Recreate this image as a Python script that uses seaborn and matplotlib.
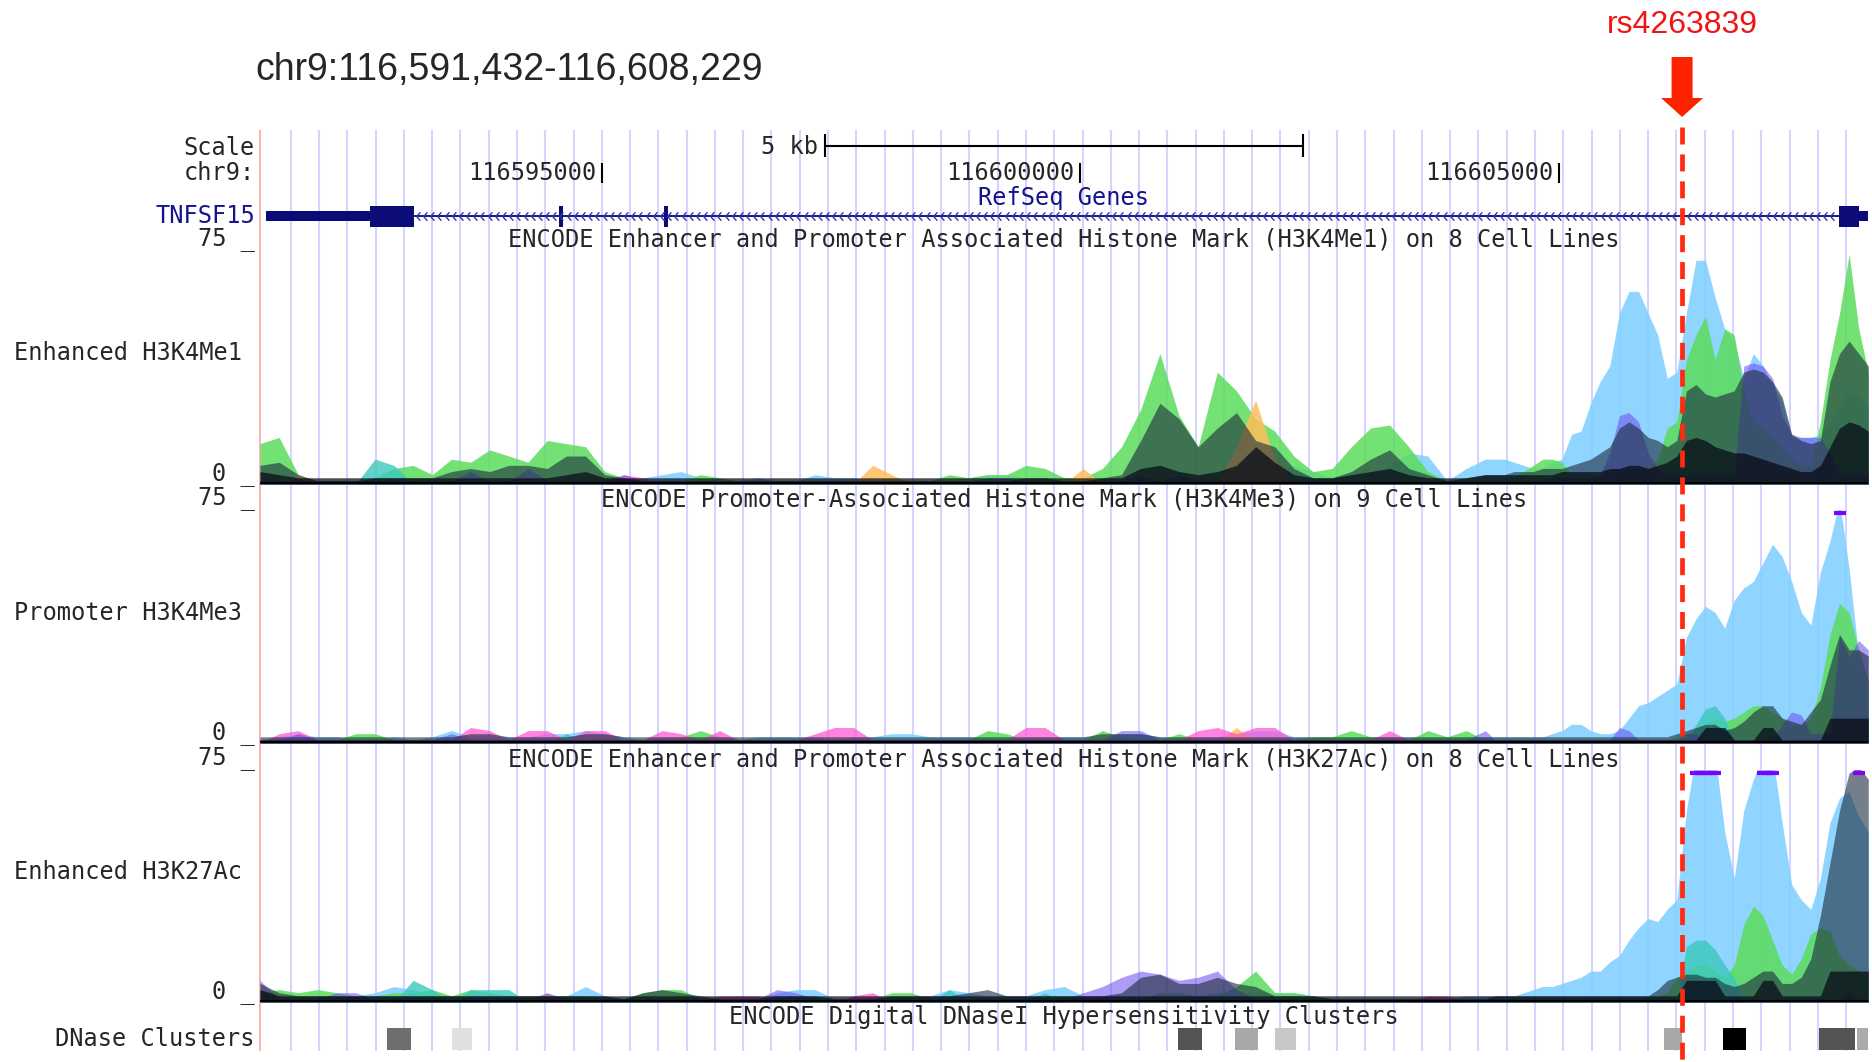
import numpy as np
import matplotlib
matplotlib.use("Agg")
import matplotlib.pyplot as plt
from matplotlib.patches import FancyArrow
from matplotlib.path import Path
import seaborn as sns

W, H = 1872, 1062

# ---- genome window / annotations ----
CHROM = "chr9"
VIEW_START = 116591432
VIEW_END = 116608229
SNP_NAME = "rs4263839"
SNP_POS = 116606287
SCALE_BAR_BP = 5000
TICK_POS = [116595000, 116600000, 116605000]

GENE_NAME = "TNFSF15"
EXON_STARTS = [116591495, 116592581, 116594557, 116595652, 116607927, 116608137]
EXON_ENDS = [116592581, 116593041, 116594597, 116595692, 116608137, 116608229]
EXON_KIND = ["utr", "cds", "cds", "cds", "cds", "utr"]

DNASE_STARTS = [116592759, 116593438, 116601022, 116601618, 116602036,
                116606100, 116606715, 116607719, 116608116]
DNASE_ENDS = [116593009, 116593647, 116601273, 116601858, 116602255,
              116606287, 116606956, 116608095, 116608229]
DNASE_SCORE = [570, 120, 670, 340, 220, 340, 1000, 670, 330]

# signal bins (bp offset from window start): 200 bp bins, then 100 bp bins
BIN_OFFSETS = np.r_[np.arange(0, 12801, 200), np.arange(12900, 16801, 100)]

# ---- H3K4Me1 layers (signal 0-75) ----
ME1_BLUE = [
    1, 1, 1, 1, 1, 1, 2, 2, 1, 1, 1, 1, 1, 1, 1, 1, 1, 1, 1, 1,
    2, 3, 4, 2, 1, 1, 2, 1, 1, 3, 2, 2, 1, 2, 1, 1, 1, 2, 3, 3,
    2, 2, 1, 1, 1, 1, 1, 1, 1, 2, 2, 2, 2, 3, 6, 4, 2, 3, 4, 6,
    10, 9, 1, 5, 8,
    8, 8, 7, 6, 5, 5, 7, 8, 16, 17, 26, 33, 38, 55, 62, 62, 55, 48, 34, 36,
    55, 72, 72, 60, 50, 46, 34, 42, 38, 32, 27, 15, 15, 15, 16, 20, 25, 30, 28, 25]
ME1_GREEN = [
    13, 15, 3, 1, 1, 1, 2, 5, 6, 3, 8, 7, 11, 9, 7, 14, 13, 12, 4, 2,
    1, 1, 1, 3, 2, 1, 1, 1, 1, 1, 1, 1, 1, 1, 1, 1, 3, 2, 3, 3,
    6, 5, 2, 2, 5, 12, 24, 42, 22, 12, 36, 30, 21, 17, 9, 4, 5, 12, 18, 19,
    12, 4, 1, 2, 2,
    2, 2, 3, 4, 6, 8, 8, 7, 3, 3, 3, 3, 4, 5, 5, 5, 5, 8, 18, 20,
    40, 48, 54, 40, 50, 48, 30, 20, 18, 15, 12, 8, 6, 6, 20, 40, 55, 74, 50, 36]
ME1_TEAL = [
    0, 0, 0, 0, 0, 0, 8, 6, 0, 0, 0, 0, 0, 0, 0, 0, 0, 0, 0, 0,
    0, 0, 0, 0, 0, 0, 0, 0, 0, 0, 0, 0, 0, 0, 0, 0, 0, 0, 0, 0,
    0, 0, 0, 0, 0, 0, 0, 0, 0, 0, 0, 0, 0, 0, 0, 0, 0, 0, 0, 0,
    0, 0, 0, 0, 0,
    0, 0, 0, 0, 0, 0, 0, 0, 0, 0, 0, 0, 0, 0, 0, 0, 0, 0, 0, 0,
    0, 0, 0, 0, 0, 0, 0, 0, 0, 0, 0, 0, 0, 0, 0, 0, 0, 0, 0, 0]
ME1_ORANGE = [
    0, 0, 3, 0, 0, 0, 0, 0, 0, 0, 0, 0, 0, 0, 0, 0, 0, 0, 0, 0,
    0, 0, 0, 0, 0, 0, 0, 0, 0, 0, 0, 0, 6, 3, 0, 0, 0, 0, 0, 0,
    0, 0, 0, 5, 0, 0, 0, 0, 0, 0, 0, 12, 27, 8, 0, 0, 0, 0, 0, 0,
    0, 0, 0, 0, 0,
    0, 0, 0, 0, 0, 0, 0, 0, 0, 0, 0, 0, 0, 0, 0, 0, 0, 0, 0, 0,
    0, 0, 0, 0, 0, 0, 0, 0, 0, 0, 0, 0, 0, 0, 0, 0, 0, 0, 0, 0]
ME1_PINK = [
    0, 0, 2, 0, 0, 0, 0, 0, 0, 0, 0, 0, 0, 0, 0, 0, 0, 0, 0, 3,
    2, 0, 0, 0, 0, 0, 0, 0, 0, 0, 0, 0, 0, 0, 0, 0, 0, 0, 0, 0,
    0, 0, 0, 0, 0, 0, 0, 0, 0, 0, 0, 0, 0, 0, 0, 0, 0, 0, 0, 0,
    0, 0, 0, 0, 0,
    0, 0, 0, 0, 0, 0, 0, 0, 0, 0, 0, 0, 0, 0, 0, 0, 0, 0, 0, 0,
    0, 0, 0, 0, 0, 0, 0, 0, 0, 0, 0, 0, 0, 0, 0, 0, 0, 0, 0, 0]
ME1_PURPLE = [
    1, 1, 1, 1, 1, 1, 1, 1, 1, 1, 1, 4, 1, 1, 5, 1, 1, 1, 1, 3,
    1, 1, 1, 1, 1, 1, 1, 1, 1, 1, 1, 1, 1, 1, 1, 1, 1, 1, 2, 2,
    1, 1, 1, 1, 1, 1, 3, 1, 3, 1, 1, 1, 1, 1, 1, 1, 1, 1, 1, 1,
    1, 1, 1, 1, 1,
    1, 1, 1, 1, 1, 1, 2, 2, 2, 2, 2, 3, 10, 22, 23, 20, 10, 5, 3, 3,
    3, 3, 3, 3, 3, 3, 38, 39, 38, 34, 22, 16, 15, 15, 15, 10, 3, 3, 3, 3]
ME1_SLATE = [
    6, 7, 3, 1, 1, 1, 2, 2, 2, 2, 4, 5, 4, 6, 6, 5, 9, 9, 3, 2,
    1, 1, 1, 1, 1, 1, 1, 1, 1, 1, 1, 1, 1, 1, 1, 1, 1, 1, 1, 1,
    2, 2, 1, 1, 2, 3, 14, 26, 21, 12, 18, 23, 14, 12, 5, 2, 2, 4, 8, 11,
    5, 3, 1, 2, 3,
    3, 3, 4, 4, 4, 5, 5, 5, 6, 7, 8, 10, 12, 18, 20, 18, 15, 14, 12, 14,
    30, 32, 29, 28, 29, 30, 36, 37, 36, 33, 28, 16, 14, 13, 14, 33, 42, 46, 42, 38]
ME1_BLACK = [
    4, 3, 2, 2, 2, 2, 2, 2, 2, 2, 2, 2, 2, 2, 2, 2, 3, 4, 2, 2,
    2, 2, 2, 2, 2, 2, 2, 2, 2, 2, 2, 2, 2, 2, 2, 2, 2, 2, 2, 2,
    2, 2, 2, 2, 2, 2, 5, 6, 4, 3, 4, 6, 12, 7, 3, 2, 2, 3, 4, 5,
    3, 2, 2, 2, 3,
    3, 3, 3, 3, 3, 3, 3, 4, 4, 4, 4, 4, 5, 5, 6, 6, 5, 6, 7, 9,
    14, 15, 14, 12, 11, 10, 10, 9, 8, 7, 6, 5, 4, 4, 6, 12, 18, 20, 19, 17]

# ---- H3K4Me3 layers ----
ME3_BLUE = [
    1, 2, 3, 2, 2, 1, 1, 2, 1, 2, 4, 2, 2, 2, 2, 3, 3, 4, 3, 2,
    1, 2, 2, 2, 2, 1, 2, 2, 2, 2, 1, 2, 2, 3, 3, 2, 2, 2, 2, 1,
    2, 2, 2, 2, 2, 3, 3, 2, 2, 2, 2, 3, 4, 4, 2, 2, 2, 2, 2, 2,
    2, 2, 2, 2, 2,
    2, 2, 2, 2, 2, 2, 3, 4, 6, 6, 4, 3, 3, 4, 8, 12, 13, 15, 17, 19,
    34, 40, 44, 42, 37, 46, 50, 52, 58, 64, 60, 52, 42, 38, 55, 65, 78, 56, 28, 20]
ME3_GREEN = [
    1, 1, 1, 1, 1, 3, 3, 1, 1, 1, 1, 1, 1, 1, 1, 1, 1, 1, 2, 1,
    1, 1, 2, 4, 2, 1, 1, 1, 1, 1, 1, 1, 1, 1, 1, 1, 1, 1, 4, 3,
    1, 1, 1, 1, 4, 2, 1, 1, 3, 1, 1, 1, 1, 1, 1, 2, 2, 4, 2, 2,
    1, 4, 2, 4, 1,
    1, 1, 1, 1, 1, 1, 1, 1, 1, 1, 1, 1, 1, 1, 1, 1, 1, 1, 1, 2,
    3, 4, 6, 8, 7, 8, 10, 12, 12, 10, 8, 6, 6, 8, 18, 35, 45, 42, 30, 20]
ME3_TEAL = [
    0, 0, 0, 0, 0, 0, 0, 0, 0, 0, 0, 0, 0, 0, 0, 0, 3, 0, 0, 0,
    0, 0, 0, 0, 0, 0, 0, 0, 0, 0, 0, 0, 0, 0, 0, 0, 0, 0, 0, 0,
    0, 0, 0, 0, 0, 0, 0, 0, 0, 0, 0, 0, 0, 0, 0, 0, 0, 0, 0, 0,
    0, 0, 0, 0, 0,
    0, 0, 0, 0, 0, 0, 0, 0, 0, 0, 0, 0, 0, 0, 0, 0, 0, 0, 0, 0,
    0, 6, 11, 12, 8, 0, 0, 0, 0, 0, 0, 0, 0, 0, 0, 0, 0, 0, 0, 0]
ME3_ORANGE = [
    0, 0, 0, 0, 0, 0, 0, 0, 0, 0, 0, 0, 0, 0, 0, 0, 0, 0, 0, 0,
    0, 0, 0, 0, 0, 0, 0, 0, 0, 0, 0, 0, 0, 0, 0, 0, 0, 0, 0, 0,
    0, 0, 0, 0, 0, 0, 0, 0, 0, 0, 0, 5, 0, 0, 0, 0, 0, 0, 0, 0,
    0, 0, 0, 0, 0,
    0, 0, 0, 0, 0, 0, 0, 0, 0, 0, 0, 0, 0, 0, 0, 0, 0, 0, 0, 0,
    0, 0, 0, 0, 0, 0, 0, 0, 0, 0, 0, 0, 0, 0, 0, 0, 0, 0, 0, 0]
ME3_PINK = [
    0, 3, 4, 1, 1, 1, 1, 1, 1, 1, 1, 5, 4, 1, 4, 4, 1, 4, 4, 1,
    1, 4, 3, 1, 4, 1, 1, 1, 1, 3, 5, 5, 1, 1, 1, 1, 1, 1, 1, 1,
    5, 5, 1, 1, 1, 1, 1, 1, 1, 4, 5, 3, 5, 5, 1, 1, 1, 1, 1, 4,
    1, 1, 1, 1, 1,
    1, 1, 1, 1, 1, 1, 1, 1, 1, 1, 1, 1, 1, 1, 1, 1, 1, 1, 1, 1,
    1, 1, 1, 1, 1, 1, 1, 1, 1, 1, 1, 1, 1, 1, 1, 1, 1, 1, 1, 1]
ME3_PURPLE = [
    1, 1, 3, 1, 1, 1, 1, 1, 1, 1, 3, 1, 1, 1, 1, 1, 1, 1, 1, 1,
    1, 1, 1, 1, 1, 1, 1, 1, 1, 1, 1, 1, 1, 1, 1, 1, 1, 1, 1, 1,
    1, 1, 1, 1, 1, 4, 4, 1, 1, 1, 1, 1, 1, 1, 1, 1, 1, 1, 1, 1,
    1, 1, 1, 1, 4,
    1, 1, 1, 1, 1, 1, 1, 1, 1, 1, 1, 1, 1, 5, 4, 1, 1, 1, 1, 1,
    3, 3, 1, 1, 1, 1, 1, 1, 1, 1, 6, 10, 9, 3, 3, 3, 34, 28, 33, 30]
ME3_SLATE = [
    2, 2, 2, 2, 2, 2, 2, 2, 2, 2, 2, 3, 3, 2, 2, 2, 2, 3, 3, 2,
    2, 2, 2, 2, 2, 2, 2, 2, 2, 2, 2, 2, 2, 2, 2, 2, 2, 2, 2, 2,
    2, 2, 2, 2, 3, 3, 3, 2, 2, 2, 2, 2, 2, 2, 2, 2, 2, 2, 2, 2,
    2, 2, 2, 2, 2,
    2, 2, 2, 2, 2, 2, 2, 2, 2, 2, 2, 2, 2, 2, 2, 2, 2, 2, 2, 3,
    4, 5, 6, 6, 4, 5, 7, 10, 12, 12, 8, 7, 6, 10, 14, 25, 35, 30, 30, 28]
ME3_BLACK = [
    1, 1, 1, 1, 1, 1, 1, 1, 1, 1, 1, 1, 1, 1, 1, 1, 1, 1, 1, 1,
    1, 1, 1, 1, 1, 1, 1, 1, 1, 1, 1, 1, 1, 1, 1, 1, 1, 1, 1, 1,
    1, 1, 1, 1, 1, 1, 1, 1, 1, 1, 1, 1, 1, 1, 1, 1, 1, 1, 1, 1,
    1, 1, 1, 1, 1,
    1, 1, 1, 1, 1, 1, 1, 1, 1, 1, 1, 1, 1, 1, 1, 1, 1, 1, 1, 1,
    1, 1, 5, 5, 5, 1, 1, 1, 5, 5, 1, 1, 1, 1, 1, 8, 8, 8, 8, 8]

# ---- H3K27Ac layers ----
K27_BLUE = [
    1, 1, 1, 2, 2, 2, 3, 5, 4, 2, 2, 2, 2, 2, 1, 2, 2, 5, 2, 1,
    1, 2, 2, 1, 1, 1, 1, 3, 4, 4, 1, 1, 1, 2, 2, 2, 4, 3, 2, 2,
    2, 4, 5, 2, 2, 2, 2, 2, 2, 2, 3, 3, 3, 3, 3, 2, 1, 1, 1, 1,
    1, 1, 1, 2, 2,
    2, 2, 2, 3, 4, 5, 5, 6, 7, 8, 10, 10, 13, 15, 20, 24, 27, 26, 30, 33,
    62, 80, 80, 80, 55, 40, 62, 72, 80, 80, 58, 38, 33, 30, 40, 58, 66, 68, 60, 55]
K27_GREEN = [
    3, 4, 3, 4, 3, 2, 2, 3, 3, 4, 2, 4, 3, 2, 2, 2, 2, 2, 1, 1,
    3, 4, 4, 1, 1, 1, 1, 1, 1, 1, 1, 1, 1, 3, 3, 1, 1, 1, 1, 1,
    1, 2, 2, 1, 1, 1, 1, 3, 3, 2, 2, 5, 10, 3, 3, 2, 1, 1, 1, 1,
    1, 1, 1, 1, 1,
    1, 1, 1, 1, 1, 1, 1, 1, 1, 1, 1, 1, 1, 1, 1, 1, 2, 2, 3, 8,
    10, 12, 12, 10, 8, 12, 25, 31, 28, 20, 12, 9, 14, 22, 24, 23, 15, 12, 10, 8]
K27_TEAL = [
    0, 0, 0, 0, 0, 0, 0, 0, 7, 4, 0, 4, 4, 4, 0, 0, 0, 0, 0, 0,
    0, 0, 0, 0, 0, 0, 0, 0, 0, 0, 0, 0, 0, 0, 0, 0, 4, 0, 0, 0,
    0, 3, 0, 0, 0, 0, 0, 0, 0, 0, 0, 0, 0, 0, 0, 0, 0, 0, 0, 0,
    0, 0, 0, 0, 0,
    0, 0, 0, 0, 0, 0, 0, 0, 0, 0, 0, 0, 0, 0, 0, 0, 0, 0, 0, 0,
    18, 20, 20, 17, 12, 8, 0, 0, 0, 0, 0, 0, 0, 0, 0, 0, 0, 0, 0, 0]
K27_ORANGE = [
    0, 0, 0, 0, 0, 0, 0, 0, 0, 0, 0, 0, 0, 0, 0, 3, 0, 0, 0, 0,
    0, 0, 0, 0, 0, 0, 0, 0, 0, 0, 0, 0, 0, 0, 0, 0, 0, 0, 0, 0,
    0, 0, 0, 0, 0, 0, 0, 0, 0, 0, 0, 0, 0, 0, 0, 0, 0, 0, 0, 0,
    0, 0, 0, 0, 0,
    0, 0, 0, 0, 0, 0, 0, 0, 0, 0, 0, 0, 0, 0, 0, 0, 0, 0, 0, 0,
    0, 0, 0, 0, 0, 0, 0, 0, 0, 0, 0, 0, 0, 0, 0, 0, 0, 0, 0, 0]
K27_PINK = [
    0, 0, 0, 0, 0, 0, 0, 0, 0, 0, 0, 0, 0, 0, 0, 0, 0, 0, 0, 0,
    0, 0, 0, 0, 2, 2, 2, 0, 0, 0, 0, 2, 3, 0, 0, 0, 0, 0, 0, 0,
    0, 0, 0, 0, 2, 0, 0, 0, 0, 0, 0, 0, 0, 0, 0, 0, 0, 0, 0, 0,
    0, 2, 2, 0, 0,
    0, 0, 0, 0, 0, 0, 0, 0, 0, 0, 0, 0, 0, 0, 0, 0, 0, 0, 0, 0,
    0, 0, 0, 0, 0, 0, 0, 0, 0, 0, 0, 0, 0, 0, 0, 0, 0, 0, 0, 0]
K27_PURPLE = [
    7, 1, 1, 1, 3, 3, 1, 1, 1, 1, 1, 1, 1, 1, 1, 3, 1, 1, 1, 1,
    1, 1, 1, 1, 1, 1, 1, 4, 3, 1, 1, 1, 1, 1, 1, 1, 1, 1, 1, 1,
    1, 1, 1, 3, 5, 8, 10, 9, 7, 8, 10, 4, 1, 1, 1, 1, 1, 1, 1, 1,
    1, 1, 1, 1, 1,
    1, 1, 1, 1, 1, 1, 1, 1, 1, 1, 1, 1, 1, 1, 1, 1, 1, 1, 1, 1,
    1, 1, 1, 1, 1, 1, 1, 1, 1, 1, 1, 1, 1, 1, 1, 1, 1, 3, 1, 1]
K27_SLATE = [
    6, 3, 2, 2, 2, 2, 2, 2, 2, 2, 2, 2, 2, 2, 2, 2, 2, 2, 2, 1,
    3, 4, 3, 2, 1, 1, 1, 2, 2, 2, 1, 1, 1, 2, 2, 2, 2, 3, 4, 2,
    2, 2, 2, 2, 2, 3, 8, 9, 6, 6, 8, 6, 5, 2, 2, 2, 1, 1, 1, 1,
    1, 1, 1, 1, 1,
    2, 2, 2, 2, 2, 2, 2, 2, 2, 2, 2, 2, 2, 2, 2, 2, 2, 4, 7, 8,
    9, 9, 8, 8, 6, 5, 6, 8, 10, 10, 6, 6, 8, 14, 28, 45, 62, 74, 76, 72]
K27_BLACK = [
    4, 2, 2, 2, 2, 2, 2, 2, 2, 2, 2, 2, 2, 2, 2, 2, 2, 2, 2, 2,
    2, 2, 2, 2, 2, 2, 2, 2, 2, 2, 2, 2, 2, 2, 2, 2, 2, 2, 2, 2,
    2, 2, 2, 2, 2, 2, 2, 2, 2, 2, 2, 2, 2, 2, 2, 2, 2, 2, 2, 2,
    2, 2, 2, 2, 2,
    2, 2, 2, 2, 2, 2, 2, 2, 2, 2, 2, 2, 2, 2, 2, 2, 2, 2, 2, 2,
    7, 7, 7, 7, 2, 2, 2, 2, 7, 7, 2, 2, 2, 2, 2, 10, 10, 10, 10, 10]

# ---- styles ----
LAYER_STYLE = [  # drawing order: colour, alpha
    ("blue", "#80d0ff", 0.88),
    ("green", "#5cdc5c", 0.85),
    ("teal", "#3cc8bc", 0.8),
    ("orange", "#ffbe5a", 0.85),
    ("pink", "#ff50d2", 0.7),
    ("purple", "#6a4cf0", 0.55),
    ("slate", "#1a2a3a", 0.6),
    ("black", "#060814", 0.72),
]
CLIP_COLOR = "#8000ff"
NAVY = "#14148c"
MONO = "DejaVu Sans Mono"
MONO_SIZE = 17.0

LEFT_PX, RIGHT_PX = 260, 1868
BP_PER_PX = (VIEW_END - VIEW_START) / (RIGHT_PX - LEFT_PX)
BIN_POS = VIEW_START + BIN_OFFSETS


def rect(x0, y0, x1, y1):
    return [x0 / W, 1 - y1 / H, (x1 - x0) / W, (y1 - y0) / H]


def label(px, py, s, ha="left", **kw):
    kw.setdefault("family", MONO)
    kw.setdefault("fontsize", MONO_SIZE)
    fig.text(px / W, 1 - py / H, s, ha=ha, va="center", **kw)


def signal_axes(top, bottom, layers):
    ax = fig.add_axes(rect(LEFT_PX, top, RIGHT_PX, bottom), zorder=2)
    ax.set_xlim(VIEW_START, VIEW_END)
    ax.set_ylim(0, 75)
    ax.axis("off")
    for vals, (_, color, alpha) in zip(layers, LAYER_STYLE):
        ax.fill_between(BIN_POS, 0, vals, color=color, alpha=alpha, lw=0)
    for vals in layers:
        v = np.asarray(vals, dtype=float)
        clipped = np.where(v >= 75, 74, np.nan)
        ax.plot(BIN_POS, clipped, color=CLIP_COLOR, lw=3, marker="_", ms=9,
                mew=3, solid_capstyle="butt")
    ax.axhline(0.4, color="black", lw=2.2)
    return ax


sns.set_theme(style="white")
plt.rcParams["font.family"] = [MONO, "DejaVu Sans"]

fig = plt.figure(figsize=(W / 100, H / 100), dpi=100)

# background axes: bp on x, pixels on y (guide lines)
x_lo = VIEW_START - LEFT_PX * BP_PER_PX
x_hi = VIEW_START + (W - LEFT_PX) * BP_PER_PX
bg = fig.add_axes([0, 0, 1, 1], zorder=0)
bg.set_xlim(x_lo, x_hi)
bg.set_ylim(H, 0)
bg.axis("off")
guides = np.arange(VIEW_START + 321, VIEW_END, 295.4)
bg.vlines(guides, 130, 1051, color="#d4d4ff", lw=1.5)
bg.vlines(VIEW_START, 130, 1051, color="#ffb0b0", lw=1.4)

# foreground axes for scale, SNP marker
fg = fig.add_axes([0, 0, 1, 1], zorder=5)
fg.set_xlim(x_lo, x_hi)
fg.set_ylim(H, 0)
fg.axis("off")

# title
fig.text(255 / W, 1 - 70 / H, f"{CHROM}:{VIEW_START:,}-{VIEW_END:,}",
         family="Liberation Sans", fontsize=27, ha="left", va="center")

# scale bar and ruler
mid = (VIEW_START + VIEW_END) / 2
fg.plot([mid - SCALE_BAR_BP / 2, mid + SCALE_BAR_BP / 2], [146, 146], color="black", lw=1.5)
fg.vlines([mid - SCALE_BAR_BP / 2, mid + SCALE_BAR_BP / 2], 134, 157, color="black", lw=1.5)
fg.annotate(f"{SCALE_BAR_BP // 1000} kb", xy=(mid - SCALE_BAR_BP / 2, 147), xytext=(-5, 0),
            textcoords="offset points", ha="right", va="center",
            family=MONO, fontsize=MONO_SIZE)
label(255, 148, "Scale", ha="right")
label(255, 173, f"{CHROM}:", ha="right")
fg.vlines(TICK_POS, 163, 183, color="black", lw=1.5)
for t in TICK_POS:
    fg.annotate(str(t), xy=(t, 173), xytext=(-4, 0), textcoords="offset points",
                ha="right", va="center", family=MONO, fontsize=MONO_SIZE)
label((LEFT_PX + RIGHT_PX) / 2, 198, "RefSeq Genes", ha="center", color=NAVY)

# gene model
gx = fig.add_axes(rect(LEFT_PX, 195, RIGHT_PX, 237), zorder=3)
gx.set_xlim(VIEW_START, VIEW_END)
gx.set_ylim(-1, 1)
gx.axis("off")
gx.plot([EXON_ENDS[1], EXON_STARTS[4]], [0, 0], color=NAVY, lw=1.4)
chev = Path([(0.45, 1), (-0.45, 0), (0.45, -1)], [Path.MOVETO, Path.LINETO, Path.LINETO])
chev_x = np.arange(EXON_ENDS[1] + 40, EXON_STARTS[4], 75)
gx.plot(chev_x, np.zeros_like(chev_x), ls="none", marker=chev, ms=6,
        mfc="none", mec="#3434a8", mew=1.0)
for s, e, k in zip(EXON_STARTS, EXON_ENDS, EXON_KIND):
    h = 0.24 if k == "utr" else 0.5
    gx.broken_barh([(s, e - s)], (-h, 2 * h), facecolor="#0c0c78", edgecolor="none")
label(255, 216, GENE_NAME, ha="right", color=NAVY)

# histone tracks
tracks = [
    (251, 484, [ME1_BLUE, ME1_GREEN, ME1_TEAL, ME1_ORANGE, ME1_PINK, ME1_PURPLE, ME1_SLATE, ME1_BLACK],
     "ENCODE Enhancer and Promoter Associated Histone Mark (H3K4Me1) on 8 Cell Lines",
     "Enhanced H3K4Me1"),
    (510, 743, [ME3_BLUE, ME3_GREEN, ME3_TEAL, ME3_ORANGE, ME3_PINK, ME3_PURPLE, ME3_SLATE, ME3_BLACK],
     "ENCODE Promoter-Associated Histone Mark (H3K4Me3) on 9 Cell Lines",
     "Promoter H3K4Me3"),
    (770, 1002, [K27_BLUE, K27_GREEN, K27_TEAL, K27_ORANGE, K27_PINK, K27_PURPLE, K27_SLATE, K27_BLACK],
     "ENCODE Enhancer and Promoter Associated Histone Mark (H3K27Ac) on 8 Cell Lines",
     "Enhanced H3K27Ac"),
]
for top, bottom, layers, title, name in tracks:
    signal_axes(top, bottom, layers)
    label((LEFT_PX + RIGHT_PX) / 2, top - 11, title, ha="center")
    label(14, (top + bottom) / 2 - 14, name)
    label(255, top - 12, "75 _", ha="right")
    label(255, bottom - 10, "0 _", ha="right")

# DNase clusters
label((LEFT_PX + RIGHT_PX) / 2, 1017, "ENCODE Digital DNaseI Hypersensitivity Clusters", ha="center")
label(255, 1039, "DNase Clusters", ha="right")
dx = fig.add_axes(rect(LEFT_PX, 1028, RIGHT_PX, 1050), zorder=3)
dx.set_xlim(VIEW_START, VIEW_END)
dx.set_ylim(0, 1)
dx.axis("off")
for s, e, sc in zip(DNASE_STARTS, DNASE_ENDS, DNASE_SCORE):
    dx.broken_barh([(s, e - s)], (0, 1), facecolor=str(1 - sc / 1000), edgecolor="none")

# SNP marker
fg.plot([SNP_POS, SNP_POS], [127, H], color="#ff2a10", lw=3.4, dashes=(3.6, 2.1))
fg.add_patch(FancyArrow(SNP_POS, 57, 0, 60, width=21 * BP_PER_PX, head_width=42 * BP_PER_PX,
                        head_length=19, length_includes_head=True, color="#ff2200", lw=0))
fg.text(SNP_POS, 25, SNP_NAME, ha="center", va="center", color="#f01414",
        family="Liberation Sans", fontsize=23)

fig.savefig("out.png", dpi=100)
